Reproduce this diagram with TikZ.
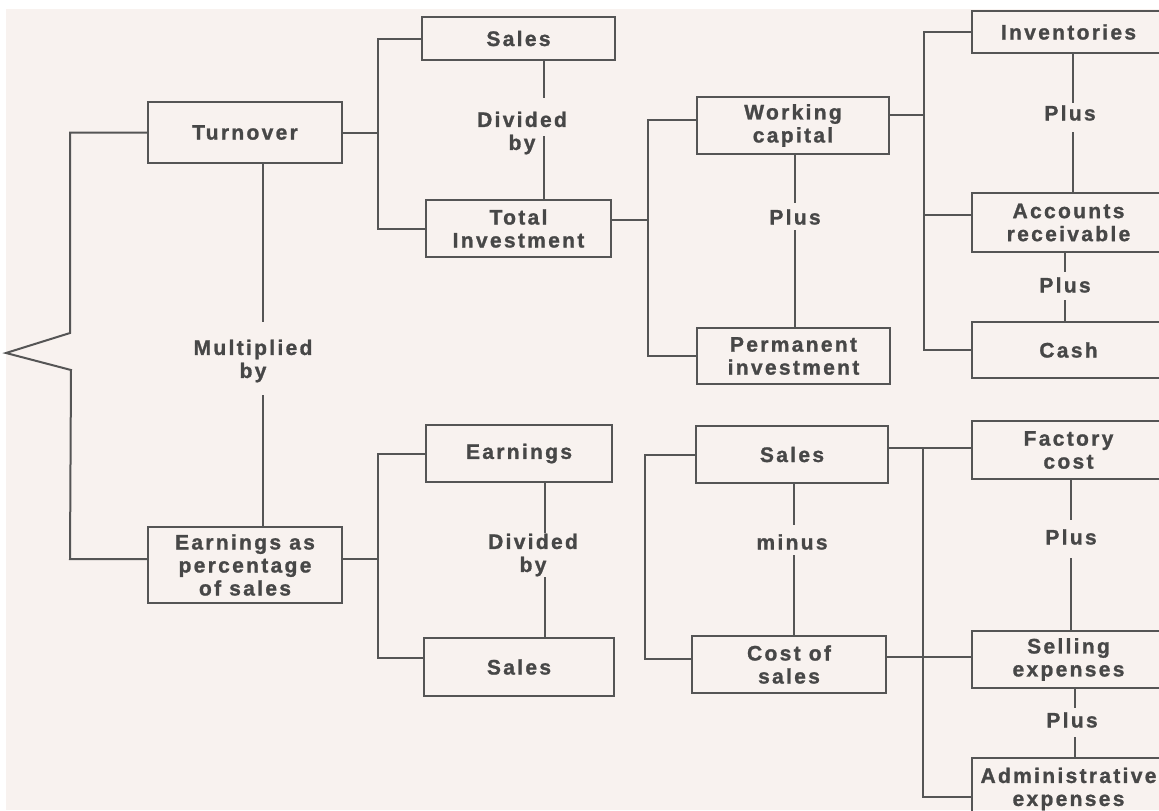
\documentclass[tikz,border=0pt]{standalone}
\usepackage{fontspec}
\newfontfamily\chartfont{Liberation Sans Bold}[LetterSpace=11, FakeBold=1.2]
\definecolor{paper}{HTML}{F8F2EF}
\definecolor{ink}{HTML}{555555}
\definecolor{txt}{HTML}{474747}
\begin{document}
\begin{tikzpicture}[x=0.75pt,y=-0.75pt,
  chartfont/.style={font=\chartfont\fontsize{15.75pt}{17.25pt}\selectfont},
  box/.style={draw=ink, line width=1.5pt, inner sep=0pt, outer sep=0pt,
    align=center, text=txt, chartfont},
  lbl/.style={inner sep=0pt, align=center, text=txt, chartfont},
  link/.style={draw=ink, line width=1.5pt}]
\useasboundingbox (0,0) rectangle (1159,810);
\fill[white] (0,0) rectangle (1159,810);
\fill[paper] (6,9) rectangle (1159,810);
\begin{scope}
\clip (0,0) rectangle (1159,810);

% ---------- boxes ----------
\node[box, minimum width=145.5pt, minimum height=45.75pt] (turn)  at (245,132.5) {Turnover};
\node[box, minimum width=145.5pt, minimum height=57pt]    (eps)   at (245,565)   {Earnings as\\percentage\\of sales};

\node[box, minimum width=144.75pt, minimum height=32.25pt] (sales1) at (518.5,38.5)  {Sales};
\node[box, minimum width=138.75pt, minimum height=42.75pt] (total)  at (518.5,228.5) {Total\\Investment};
\node[box, minimum width=139.5pt,  minimum height=42.75pt] (earn)   at (519,453.5)   {Earnings};
\node[box, minimum width=142.5pt,  minimum height=43.5pt]  (sales3) at (519,667)     {Sales};

\node[box, minimum width=144pt,    minimum height=42.75pt] (wc)     at (793,125.5)   {Working\\capital};
\node[box, minimum width=144.75pt, minimum height=42pt]    (perm)   at (793.5,356)   {Permanent\\investment};
\node[box, minimum width=144pt,    minimum height=42.75pt] (sales2) at (792,454.5)   {Sales};
\node[box, minimum width=145.5pt,  minimum height=42.75pt] (cost)   at (789,664.5)   {Cost of\\sales};

\node[box, minimum width=144.75pt, minimum height=31.5pt]  (inv)  at (1068.5,32)    {Inventories};
\node[box, minimum width=144.75pt, minimum height=44.25pt] (acc)  at (1068.5,222.5) {Accounts\\receivable};
\node[box, minimum width=144.75pt, minimum height=42pt]    (cash) at (1068.5,350)   {Cash};
\node[box, minimum width=144.75pt, minimum height=43.5pt]  (fac)  at (1068.5,450)   {Factory\\cost};
\node[box, minimum width=144.75pt, minimum height=42.75pt] (sell) at (1068.5,659.5) {Selling\\expenses};
\node[box, minimum width=144.75pt, minimum height=46.5pt]  (adm)  at (1068.5,789)   {Administrative\\expenses};

% ---------- operator labels ----------
\node[lbl] (mul)  at (253,361)  {Multiplied\\by};
\node[lbl] (div1) at (522,133)  {Divided\\by};
\node[lbl] (div2) at (533,555)  {Divided\\by};
\node[lbl] (plw)  at (795,217)  {Plus};
\node[lbl] (pli)  at (1070,113) {Plus};
\node[lbl] (pla)  at (1065,285) {Plus};
\node[lbl] (minu) at (792,542)  {minus};
\node[lbl] (plf)  at (1071,537) {Plus};
\node[lbl] (pls)  at (1072,720) {Plus};

% ---------- junction columns and offset anchors ----------
\coordinate (bx) at (70,0);
\coordinate (ja) at (378,0);
\coordinate (jc) at (648,0);
\coordinate (jd) at (645,0);
\coordinate (jb) at (924,0);
\coordinate (je) at (923,0);
\coordinate (tip) at (6,353);

\coordinate (epsl)  at ([yshift=4.5pt]eps.west);
\coordinate (epsr)  at ([yshift=4.5pt]eps.east);
\coordinate (totr)  at ([yshift=6.4pt]total.east);
\coordinate (wcl)   at ([yshift=4.1pt]wc.west);
\coordinate (wcr)   at ([yshift=7.9pt]wc.east);
\coordinate (accl)  at ([yshift=6pt]acc.west);
\coordinate (s3l)   at ([yshift=6.75pt]sales3.west);
\coordinate (costl) at ([yshift=4.1pt]cost.west);
\coordinate (costr) at ([yshift=5.6pt]cost.east);
\coordinate (s2r)   at ([yshift=4.9pt]sales2.east);
\coordinate (adml)  at ([yshift=-6pt]adm.west);

% ---------- left bracket joining the two factors ----------
\draw[link, line join=miter] (turn.west) -- (turn.west -| bx) -- (70,333) -- (tip)
  -- (71,370) -- (bx |- epsl) -- (epsl);

% ---------- Turnover multiplied by earnings ----------
\coordinate (mx) at (263,0);
\draw[link] (mx |- turn.south) -- ++(0,159);
\draw[link] (mx |- eps.north) -- ++(0,-132);

% ---------- Turnover branch ----------
\draw[link] (turn.east) -- (turn.east -| ja);
\draw[link] (sales1.west) -| (ja |- total.west) -- (total.west);
\coordinate (dx1) at (544,0);
\draw[link] (dx1 |- sales1.south) -- ++(0,38);
\draw[link] (dx1 |- total.north) -- ++(0,-64);

% ---------- Total investment branch ----------
\draw[link] (totr) -- (totr -| jc);
\draw[link] (wcl) -| (jc |- perm.west) -- (perm.west);
\coordinate (px1) at (795,0);
\draw[link] (px1 |- wc.south) -- ++(0,49);
\draw[link] (px1 |- perm.north) -- ++(0,-98);

% ---------- Working capital branch ----------
\draw[link] (wcr) -- (wcr -| jb);
\draw[link] (inv.west) -| (jb |- cash.west) -- (cash.west);
\draw[link] (accl) -- (accl -| jb);
\coordinate (qx1) at (1073,0);
\draw[link] (qx1 |- inv.south) -- ++(0,50);
\draw[link] (qx1 |- acc.north) -- ++(0,-61);
\coordinate (qx2) at (1065,0);
\draw[link] (qx2 |- acc.south) -- ++(0,20);
\draw[link] (qx2 |- cash.north) -- ++(0,-22);

% ---------- Earnings branch ----------
\draw[link] (epsr) -- (epsr -| ja);
\draw[link] (earn.west) -| (ja |- s3l) -- (s3l);
\coordinate (dx2) at (545,0);
\draw[link] (dx2 |- earn.south) -- ++(0,51);
\draw[link] (dx2 |- sales3.north) -- ++(0,-61);

% ---------- Sales minus cost of sales ----------
\draw[link] (sales2.west) -| (jd |- costl) -- (costl);
\coordinate (mx2) at (794,0);
\draw[link] (mx2 |- sales2.south) -- ++(0,42);
\draw[link] (mx2 |- cost.north) -- ++(0,-81);

% ---------- Cost of sales branch ----------
\draw[link] (s2r) -- (s2r -| fac.west);
\draw[link] (s2r -| je) |- (adml);
\draw[link] (costr) -- (costr -| sell.west);
\coordinate (qx3) at (1071,0);
\draw[link] (qx3 |- fac.south) -- ++(0,41);
\draw[link] (qx3 |- sell.north) -- ++(0,-73);
\coordinate (qx4) at (1075,0);
\draw[link] (qx4 |- sell.south) -- ++(0,20);
\draw[link] (qx4 |- adm.north) -- ++(0,-21);
\end{scope}
\end{tikzpicture}
\end{document}
